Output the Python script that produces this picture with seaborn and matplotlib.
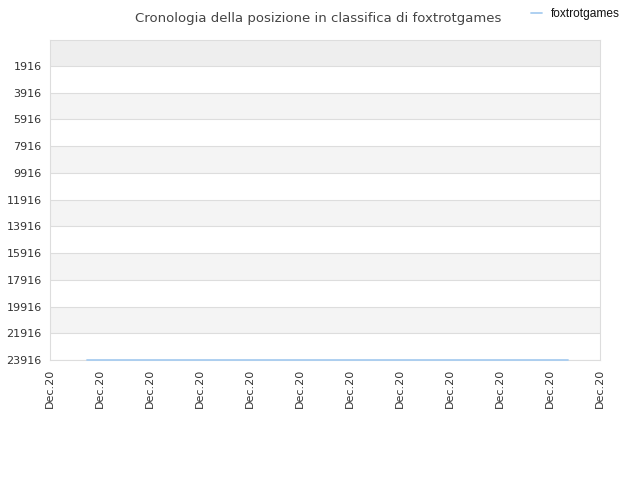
import numpy as np
import pandas as pd
import seaborn as sns
import matplotlib.pyplot as plt

# dati
player = 'foxtrotgames'
days = [0.74, 2.0, 4.0, 6.0, 8.0, 10.36]
ranks = [23916, 23916, 23916, 23916, 23916, 23916]
y_ticks = [1916, 3916, 5916, 7916, 9916, 11916, 13916, 15916, 17916, 19916, 21916, 23916]
x_ticks = list(range(12))
x_labels = ['Dec.20'] * 12

df = pd.DataFrame({'day': days, 'rank': ranks, 'player': player})

sns.set_style('white')
fig = plt.figure(figsize=(6.4, 4.8), dpi=100)
ax = fig.add_axes([50 / 640, 1 - 360 / 480, 550 / 640, 320 / 480])

ax.set_xlim(0, 11)
ax.set_ylim(23916, -30)

# bande alternate
ax.axhspan(-30, y_ticks[0], color='#eeeeee', zorder=0, lw=0)
for i in range(len(y_ticks) - 1):
    col = 'white' if i % 2 == 0 else '#f4f4f4'
    ax.axhspan(y_ticks[i], y_ticks[i + 1], color=col, zorder=0, lw=0)
for t in y_ticks:
    ax.axhline(t, color='#dddddd', lw=0.8, zorder=1)

sns.lineplot(data=df, x='day', y='rank', hue='player', palette=['#a8cdf0'],
             lw=1.3, ax=ax, legend=False)
for ln in ax.get_lines()[-1:]:
    ln.set_zorder(5)
    ln.set_clip_on(False)
    ln.set_label(player)

ax.set_yticks(y_ticks)
ax.set_yticklabels([str(t) for t in y_ticks], fontsize=8, color='#333333')
ax.set_xticks(x_ticks)
ax.set_xticklabels(x_labels, rotation=90, fontsize=8, color='#333333')
ax.tick_params(length=0, pad=6)
ax.set_xlabel('')
ax.set_ylabel('')
for s in ax.spines.values():
    s.set_color('#dddddd')
    s.set_linewidth(0.8)

fig.text(0.497, 0.975, 'Cronologia della posizione in classifica di foxtrotgames',
         ha='center', va='top', fontsize=9.5, color='#444444')

leg = fig.legend(handles=[ax.get_lines()[-1]], loc='center left',
                 bbox_to_anchor=(526 / 640, 1 - 14 / 480),
                 frameon=False, fontsize=8.6, handlelength=0.9,
                 handletextpad=0.8, borderaxespad=0)
for t in leg.get_texts():
    t.set_family('Liberation Sans')
    t.set_color('#111111')

fig.savefig('out.png', dpi=100)
